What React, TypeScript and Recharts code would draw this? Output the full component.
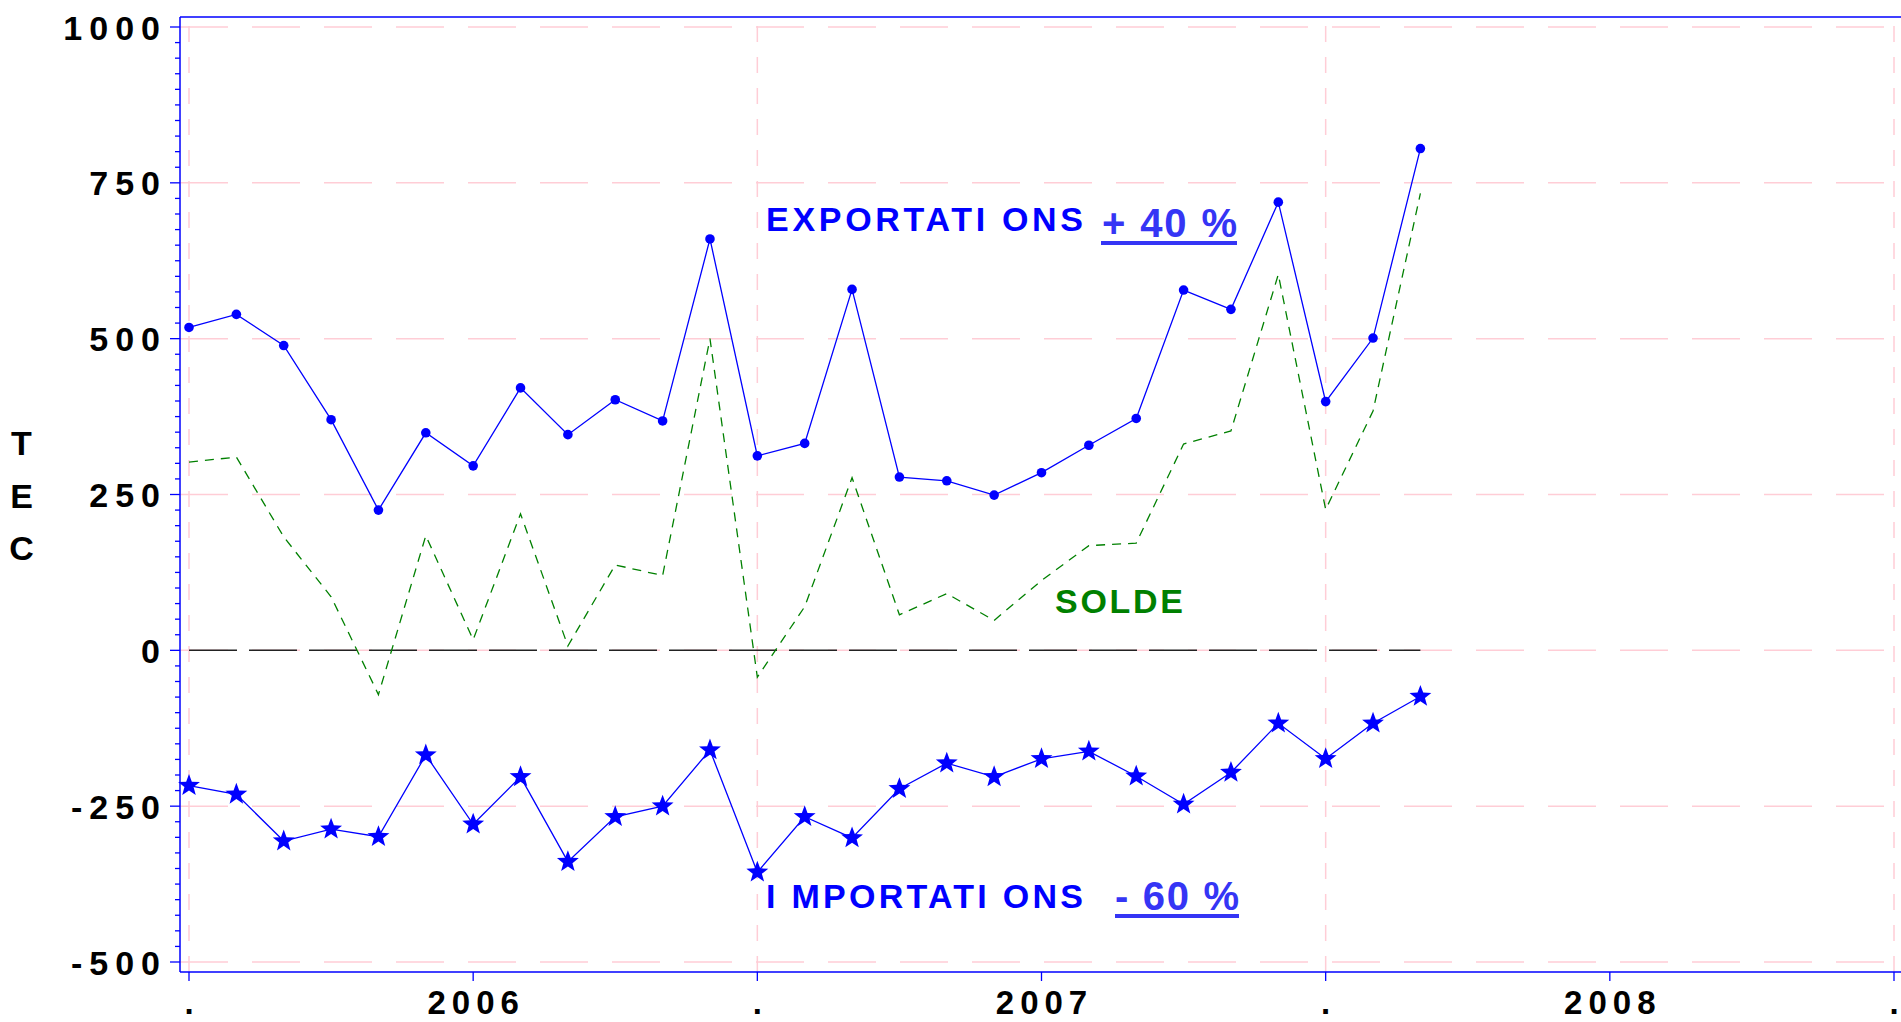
import { LineChart, Line, XAxis, YAxis, ReferenceLine } from "recharts";

// monthly values, July 2005 -> September 2007 (index 0 = first month)
const EXPORTS = [518, 539, 489, 370, 225, 349, 296, 421, 346, 402, 368, 660, 312, 332, 579, 278, 272, 249, 285, 329, 372, 578, 547, 719, 399, 501, 805];
const IMPORTS = [-217, -231, -306, -287, -299, -168, -279, -203, -339, -267, -250, -160, -356, -267, -301, -222, -181, -203, -174, -162, -202, -247, -196, -117, -174, -117, -74];
const SOLDE = [302, 310, 182, 86, -71, 184, 17, 219, 7, 137, 120, 500, -43, 70, 277, 57, 91, 48, 112, 168, 172, 331, 352, 603, 226, 384, 733];

const X_TICKS = [0, 6, 12, 18, 24, 30, 36];
const X_LABELS = [".", "2006", ".", "2007", ".", "2008", "."];
const X_GRID = [0, 12, 24, 36];
const Y_MAJOR = [-500, -250, 0, 250, 500, 750, 1000];
const Y_MINOR_STEP = 25;

const Y_TICKS: number[] = [];
for (let v = Y_MAJOR[0]; v <= Y_MAJOR[Y_MAJOR.length - 1]; v += Y_MINOR_STEP) Y_TICKS.push(v);

const data = EXPORTS.map((v, i) => ({ m: i, exp: v, imp: IMPORTS[i], solde: SOLDE[i] }));

const BLUE = "#0000ff";
const PINK = "#ffcdd6";
const GREEN = "#008000";
const FONT = "'Liberation Sans', Arial, sans-serif";
const AXIS_X = 180;
const AXIS_Y = 972;

function YTick(props: any) {
  const { y, payload } = props;
  const major = payload.value % 250 === 0;
  return (
    <g>
      <line x1={AXIS_X - (major ? 10 : 5)} x2={AXIS_X} y1={y} y2={y} stroke={BLUE} strokeWidth={1.3} />
      {major && (
        <text x={160 + 7} y={y + 12.5} textAnchor="end" fontFamily={FONT} fontWeight="bold" fontSize={34} letterSpacing={7} fill="#000">
          {payload.value}
        </text>
      )}
    </g>
  );
}

function XTick(props: any) {
  const { x, index } = props;
  const label = X_LABELS[index];
  const wide = label.length > 1;
  return (
    <g>
      <line x1={x} x2={x} y1={AXIS_Y} y2={AXIS_Y + 9} stroke={BLUE} strokeWidth={1.3} />
      <text
        x={wide ? x + 3 : x}
        y={1014}
        textAnchor="middle"
        fontFamily={FONT}
        fontWeight="bold"
        fontSize={33}
        letterSpacing={wide ? 6 : 0}
        fill="#000"
      >
        {label}
      </text>
    </g>
  );
}

function Star(props: any) {
  const { cx, cy } = props;
  if (cx == null || cy == null) return null;
  const pts: string[] = [];
  for (let i = 0; i < 10; i++) {
    const r = i % 2 === 0 ? 11.5 : 4.8;
    const a = -Math.PI / 2 + (i * Math.PI) / 5;
    pts.push(`${cx + r * Math.cos(a)},${cy + r * Math.sin(a)}`);
  }
  return <polygon points={pts.join(" ")} fill={BLUE} />;
}

function Dot(props: any) {
  const { cx, cy } = props;
  if (cx == null || cy == null) return null;
  return <circle cx={cx} cy={cy} r={4.8} fill={BLUE} />;
}

export default function App() {
  return (
    <div style={{ position: "absolute", left: 0, top: 0, width: 1901, height: 1022, background: "#fff" }}>
      <LineChart width={1901} height={1022} data={data} margin={{ top: 0, right: 0, bottom: 0, left: 0 }}>
        <XAxis
          type="number"
          dataKey="m"
          domain={[0, 36]}
          ticks={X_TICKS}
          interval={0}
          padding={{ left: 9, right: 7 }}
          height={50}
          axisLine={{ stroke: BLUE, strokeWidth: 1.5 }}
          tickLine={false}
          tick={XTick}
        />
        <XAxis
          xAxisId="top"
          orientation="top"
          type="number"
          dataKey="m"
          domain={[0, 36]}
          height={17}
          tick={false}
          tickLine={false}
          axisLine={{ stroke: BLUE, strokeWidth: 1.5 }}
        />
        <YAxis
          type="number"
          domain={[-500, 1000]}
          ticks={Y_TICKS}
          interval={0}
          padding={{ top: 10, bottom: 10 }}
          width={180}
          axisLine={{ stroke: BLUE, strokeWidth: 1.5 }}
          tickLine={false}
          tick={YTick}
        />
        {Y_MAJOR.map((v) => (
          <ReferenceLine key={`h${v}`} y={v} stroke={PINK} strokeWidth={1.5} strokeDasharray="48 24" />
        ))}
        {X_GRID.map((v) => (
          <ReferenceLine key={`v${v}`} x={v} stroke={PINK} strokeWidth={1.5} strokeDasharray="16 15" />
        ))}
        <ReferenceLine
          segment={[{ x: 0, y: 0 }, { x: EXPORTS.length - 1, y: 0 }]}
          stroke="#222"
          strokeWidth={1.5}
          strokeDasharray="48 12"
        />
        <Line dataKey="solde" stroke={GREEN} strokeWidth={1.3} strokeDasharray="9 7" dot={false} isAnimationActive={false} />
        <Line dataKey="exp" stroke={BLUE} strokeWidth={1.3} dot={Dot} activeDot={false} isAnimationActive={false} />
        <Line dataKey="imp" stroke={BLUE} strokeWidth={1.3} dot={Star} activeDot={false} isAnimationActive={false} />
      </LineChart>
      <svg width={1901} height={1022} style={{ position: "absolute", left: 0, top: 0, pointerEvents: "none" }}>
        <g fontFamily={FONT} fontWeight="bold">
          <text x={766} y={231} fontSize={34} fill={BLUE} textLength={317} lengthAdjust="spacing">EXPORTATI ONS</text>
          <text x={1102} y={237} fontSize={40} fill="#3535f5" textLength={135} lengthAdjust="spacing">+ 40 %</text>
          <rect x={1101} y={241} width={136} height={4} fill="#3535f5" />
          <text x={766} y={908} fontSize={34} fill={BLUE} textLength={317} lengthAdjust="spacing">I MPORTATI ONS</text>
          <text x={1115} y={910} fontSize={40} fill="#3535f5" textLength={124} lengthAdjust="spacing">- 60 %</text>
          <rect x={1115} y={914} width={124} height={4} fill="#3535f5" />
          <text x={1055} y={613} fontSize={34} fill={GREEN} textLength={128} lengthAdjust="spacing">SOLDE</text>
          <text x={21.5} y={455} fontSize={34} textAnchor="middle" fill="#000">T</text>
          <text x={21.5} y={508} fontSize={34} textAnchor="middle" fill="#000">E</text>
          <text x={21.5} y={560} fontSize={34} textAnchor="middle" fill="#000">C</text>
        </g>
      </svg>
    </div>
  );
}
